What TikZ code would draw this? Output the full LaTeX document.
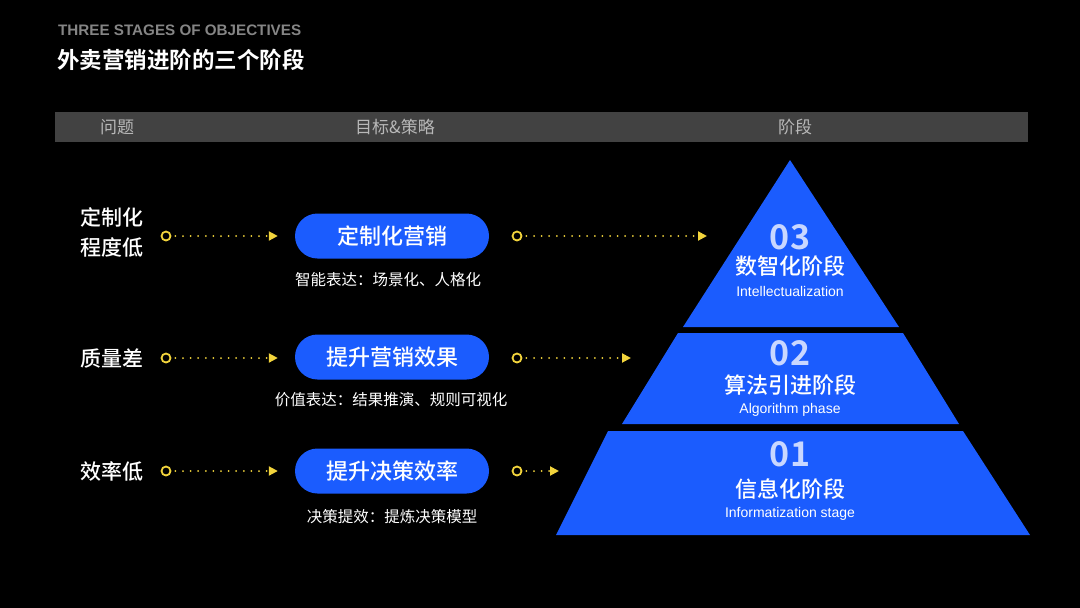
\documentclass[tikz,border=0pt]{standalone}
\usepackage{fontspec}
\setmainfont{Liberation Sans}
\newfontfamily\cjk{Noto Sans CJK SC}[BoldFont={Noto Sans CJK SC Medium}]
\newfontfamily\cjkb{Noto Sans CJK SC Bold}
\usetikzlibrary{arrows.meta}
\definecolor{pblue}{HTML}{1B5CFE}
\definecolor{yel}{HTML}{F2D43C}
\definecolor{hdrbg}{HTML}{424242}
\definecolor{hdrtx}{HTML}{B8B8B8}
\definecolor{subgray}{HTML}{858585}
\definecolor{numcol}{HTML}{C9D7FF}
\tikzset{
  txt/.style={inner sep=0pt, anchor=center, text=white},
  hdr/.style={txt, text=hdrtx, font=\cjk\fontsize{17}{17}\selectfont},
  lefttxt/.style={txt, align=center, font=\cjk\bfseries\fontsize{21}{30}\selectfont},
  pill/.style={fill=pblue, rounded corners=22.5pt, minimum width=194pt, minimum height=45pt, inner sep=0pt, text=white, font=\cjk\bfseries\fontsize{22}{22}\selectfont},
  subtx/.style={txt, font=\cjk\fontsize{15.5}{15.5}\selectfont},
  ring/.style={circle, draw=yel, line width=1.8pt, minimum size=9pt, inner sep=0pt},
  dotarrow/.style={yel, line width=2pt, line cap=round, dash pattern=on 0pt off 7.6pt, -{Triangle[width=9pt,length=9pt]}},
  slice/.style={fill=pblue},
  num/.style={txt, text=numcol, font=\cjkb\fontsize{34}{34}\selectfont},
  stname/.style={txt, font=\cjk\bfseries\fontsize{22}{22}\selectfont},
  sten/.style={txt, font=\fontsize{14}{14}\selectfont},
}
\begin{document}
\begin{tikzpicture}[x=1pt,y=-1pt]
\useasboundingbox[fill=black] (0,0) rectangle (1080,608);

% titles
\node[txt, anchor=west, text=subgray, font=\bfseries\fontsize{15.2}{15.2}\selectfont] (t1) at (58,30) {THREE STAGES OF OBJECTIVES};
\node[txt, anchor=west, font=\cjkb\fontsize{22.5}{22.5}\selectfont] (t2) at (57,60) {外卖营销进阶的三个阶段};

% header bar
\fill[hdrbg] (55,112) rectangle (1028,142);
\node[hdr] (h1) at (117,127) {问题};
\node[hdr] (h2) at (395,127) {目标\&策略};
\node[hdr] (h3) at (795,127) {阶段};

% pyramid
\fill[slice] (790,160) -- (899,327) -- (683,327) -- cycle;
\fill[slice] (678,333) -- (903,333) -- (959,424) -- (622,424) -- cycle;
\fill[slice] (608,431) -- (963,431) -- (1030,535) -- (556,535) -- cycle;

\node[num] (n3) at (790,237) {03};
\node[stname] (s3) at (790,266) {数智化阶段};
\node[sten] (e3) at (790,291) {Intellectualization};
\node[num] (n2) at (790,353) {02};
\node[stname] (s2) at (790,385) {算法引进阶段};
\node[sten] (e2) at (790,410) {Algorithm phase};
\node[num] (n1) at (790,454) {01};
\node[stname] (s1) at (790,489) {信息化阶段};
\node[sten] (e1) at (790,514) {Informatization stage};

% left labels
\node[lefttxt] (l1) at (112,232) {定制化\\程度低};
\node[lefttxt] (l2) at (112,358) {质量差};
\node[lefttxt] (l3) at (112,471) {效率低};

% pills
\node[pill] (p1) at (392,236) {定制化营销};
\node[pill] (p2) at (392,357) {提升营销效果};
\node[pill] (p3) at (392,471) {提升决策效率};
\node[subtx] (d1) at (388,280) {智能表达：场景化、人格化};
\node[subtx] (d2) at (391,400) {价值表达：结果推演、规则可视化};
\node[subtx] (d3) at (392,517) {决策提效：提炼决策模型};

% rings
\node[ring] (cl1) at (166,236) {};
\node[ring] (cl2) at (166,358) {};
\node[ring] (cl3) at (166,471) {};
\node[ring] (cr1) at (517,236) {};
\node[ring] (cr2) at (517,358) {};
\node[ring] (cr3) at (517,471) {};
\coordinate (ar1) at (707,236);
\coordinate (ar2) at (631,358);
\coordinate (ar3) at (559,471);

% arrows
\draw[dotarrow] ([xshift=4pt]cl1.east) -- ([xshift=-17pt]p1.west);
\draw[dotarrow] ([xshift=4pt]cl2.east) -- ([xshift=-17pt]p2.west |- cl2);
\draw[dotarrow] ([xshift=4pt]cl3.east) -- ([xshift=-17pt]p3.west);
\draw[dotarrow] ([xshift=4pt]cr1.east) -- (ar1);
\draw[dotarrow] ([xshift=4pt]cr2.east) -- (ar2);
\draw[dotarrow] ([xshift=4pt]cr3.east) -- (ar3);
\end{tikzpicture}
\end{document}
